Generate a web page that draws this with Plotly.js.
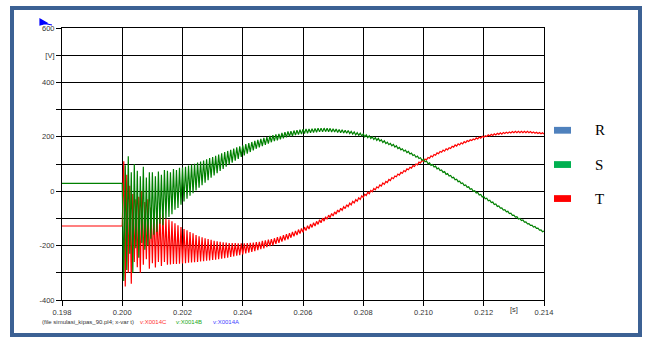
<!DOCTYPE html>
<html>
<head>
<meta charset="utf-8">
<script src="https://cdn.plot.ly/plotly-3.0.1.min.js"></script>
<style>
  html, body { margin: 0; padding: 0; background: #fff; }
  #chart { width: 648px; height: 339px; position: absolute; left: 0; top: 0; }
  #frame { position: absolute; left: 10px; top: 6px; width: 632px; height: 331px;
           box-sizing: border-box; border: 4px solid #3c6194; pointer-events: none; }
  #flag { position: absolute; left: 0; top: 0; pointer-events: none; }
</style>
</head>
<body>
<div id="chart"></div>
<div id="frame"></div>
<svg id="flag" width="648" height="339"><path d="M40,19 L40,25 L47,23 Z M42,23 L52,25" fill="#0000ff" stroke="#0000ff" stroke-width="1.2"/></svg>
<script>
// time axis: x-var t [s]
const preTime = [0.198, 0.200];
const preS = [29, 29];
const preT = [-128, -128];
const mainStart = 0.200;
const mainStep = 0.00005;

// v:X0014B (S, green), sampled every 0.05 ms from 0.200 s
const seriesS = [
29,-330,95,-290,128,-230,70,-300,100,-210,
75,-245,55,-190,90,-215,50,-200,70,-175,
70,-160,55,-150,72,-120,60,-125,78,-100,
75,-95,70,-85,82,-68,78,-62,86,-50,
87,-38,90,-28,94,-17,98,-7,101,3,
105,13,109,22,113,31,117,40,122,50,
126,58,130,66,135,74,139,82,144,90,
148,98,152,105,157,112,161,119,165,126,
169,132,173,138,177,144,181,150,185,156,
189,161,192,166,196,170,199,175,203,180,
206,184,209,187,211,191,214,194,217,198,
220,201,221,203,223,206,224,208,226,210,
228,212,229,213,229,215,230,216,231,217,
232,218,232,218,232,219,231,219,231,218,
230,218,229,216,227,215,226,214,224,213,
223,212,220,210,218,207,215,205,213,203,
211,200,207,197,204,194,200,190,197,187,
194,184,189,179,185,175,180,171,176,167,
172,162,167,157,161,152,156,147,151,142,
146,137,140,131,134,125,129,120,123,114,
117,108,111,101,104,95,98,89,92,82,
85,76,78,69,72,62,65,56,58,49,
51,42,44,35,37,28,30,21,23,14,
16,7,9,0,2,-7,-5,-14,-12,-21,
-19,-28,-26,-35,-33,-42,-40,-49,-47,-56,
-54,-62,-61,-69,-68,-76,-74,-82,-81,-89,
-88,-95,-94,-102,-100,-108,-106,-114,-113,-120,
-119,-126,-125,-132,-130,-137,-136,-143,-142,-149,-147
];

// v:X0014C (T, red)
const seriesT = [
-128,110,-350,60,-300,20,-340,-10,-260,-30,
-280,-20,-300,0,-270,-40,-250,-30,-285,-60,
-265,-70,-280,-75,-260,-85,-275,-80,-260,-100,
-270,-104,-269,-111,-268,-118,-268,-125,-267,-132,
-266,-139,-265,-144,-263,-150,-262,-155,-261,-161,
-260,-166,-258,-169,-257,-173,-256,-176,-255,-179,
-253,-182,-252,-184,-250,-186,-248,-188,-246,-189,
-244,-191,-242,-191,-240,-191,-237,-192,-235,-192,
-232,-192,-229,-191,-226,-190,-223,-189,-220,-187,
-217,-186,-213,-183,-210,-181,-206,-178,-202,-176,
-199,-173,-194,-169,-190,-166,-185,-162,-181,-158,
-177,-154,-171,-150,-166,-146,-161,-141,-156,-137,
-151,-132,-145,-127,-139,-121,-133,-116,-128,-111,
-122,-105,-116,-99,-110,-94,-103,-88,-97,-82,
-91,-76,-84,-69,-77,-63,-70,-57,-64,-50,
-57,-44,-50,-37,-43,-31,-37,-24,-30,-17,
-23,-11,-16,-4,-9,3,-2,10,5,16,
12,23,19,30,25,36,32,43,39,50,
46,56,53,63,59,69,66,76,72,82,
79,88,85,94,91,100,97,107,104,113,
110,118,115,124,121,130,126,135,132,141,
138,146,143,151,147,156,152,160,157,165,
162,170,166,174,170,178,174,182,178,186,
183,189,186,192,189,196,192,199,195,202,
198,204,201,207,203,209,205,211,207,213,
209,215,210,216,212,217,213,218,214,219,
215,220,215,220,215,220,215,220,215,220,
215,219,214,218,213,217,212,216,211,215,210
];

const xTickVals = [0.198, 0.200, 0.202, 0.204, 0.206, 0.208, 0.210, 0.212, 0.214];
const xTickText = ['0.198','0.200','0.202','0.204','0.206','0.208','0.210','0.212','0.214'];
const yTickVals = [-400,-300,-200,-100,0,100,200,300,400,500,600];
const yTickText = ['-400','','-200','','0','','200','','400','[V]','600'];

const legendNames = ['R', 'S', 'T'];
const legendColors = ['#4f81bd', '#00b050', '#ff0000'];

const captionTexts = ['(file simulasi_kipas_90.pl4; x-var t)', 'v:X0014C', 'v:X0014B', 'v:X0014A'];
const captionColors = ['#333333', '#ff3333', '#22aa22', '#4444ff'];

const RED = '#ff0000', GREEN = '#008000';

const traces = [
  {x: preTime, y: preT, mode: 'lines', line: {color: RED, width: 1.2}, showlegend: false, hoverinfo: 'skip'},
  {y: seriesT, x0: mainStart, dx: mainStep, mode: 'lines', line: {color: RED, width: 1.2}, showlegend: false},
  {x: preTime, y: preS, mode: 'lines', line: {color: GREEN, width: 1.2}, showlegend: false, hoverinfo: 'skip'},
  {y: seriesS, x0: mainStart, dx: mainStep, mode: 'lines', line: {color: GREEN, width: 1.2}, showlegend: false}
];

const tickFont = {family: 'Liberation Sans, Arial, sans-serif', size: 7.5, color: '#333'};

const shapes = [];
const annotations = [];
const legY = [0.624, 0.498, 0.373];
legendNames.forEach((n, i) => {
  shapes.push({type: 'rect', xref: 'paper', yref: 'paper', x0: 1.0207, x1: 1.056,
    y0: legY[i] - 0.0125, y1: legY[i] + 0.0125, fillcolor: legendColors[i], line: {width: 0}});
  annotations.push({xref: 'paper', yref: 'paper', x: 1.1017, y: legY[i], xanchor: 'left', yanchor: 'middle',
    text: n, showarrow: false, font: {family: 'Liberation Serif, Times New Roman, serif', size: 15, color: '#000'}});
});
const capX = [-0.0456, 0.1577, 0.2324, 0.3091];
captionTexts.forEach((c, i) => {
  annotations.push({xref: 'paper', yref: 'paper', x: capX[i], y: -0.082, xanchor: 'left', yanchor: 'middle',
    text: c, showarrow: false, font: {family: 'Liberation Sans, Arial, sans-serif', size: 6, color: captionColors[i]}});
});
annotations.push({xref: 'x', yref: 'paper', x: 0.213, y: -0.036, xanchor: 'center', yanchor: 'middle',
  text: '[s]', showarrow: false, font: tickFont});

const layout = {
  width: 648, height: 339,
  margin: {l: 62, r: 104, t: 28, b: 39},
  paper_bgcolor: 'rgba(0,0,0,0)', plot_bgcolor: '#fff',
  showlegend: false,
  xaxis: {range: [0.198, 0.214], tickvals: xTickVals, ticktext: xTickText, ticks: 'outside', ticklen: 5,
    tickcolor: '#000', showgrid: true, gridcolor: '#000', gridwidth: 1, showline: true, linecolor: '#000',
    linewidth: 1, mirror: true, zeroline: false, tickfont: tickFont, ticklabelstandoff: 0},
  yaxis: {range: [-400, 600], tickvals: yTickVals, ticktext: yTickText, ticks: 'outside', ticklen: 5,
    tickcolor: '#000', showgrid: true, gridcolor: '#000', gridwidth: 1, showline: true, linecolor: '#000',
    linewidth: 1, mirror: true, zeroline: false, tickfont: tickFont},
  shapes: shapes,
  annotations: annotations
};

Plotly.newPlot('chart', traces, layout, {displayModeBar: false, staticPlot: true});
</script>
</body>
</html>
